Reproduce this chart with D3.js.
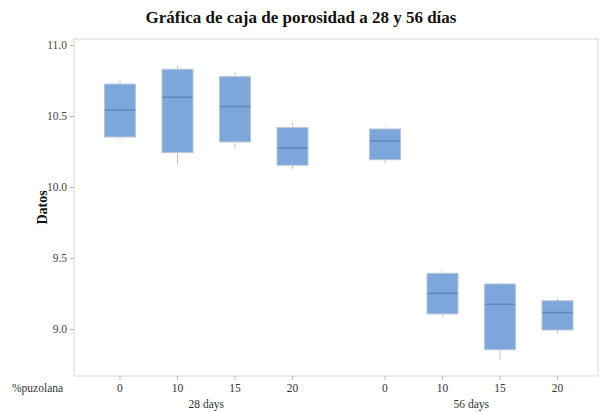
<!DOCTYPE html>
<html><head><meta charset="utf-8">
<script src="https://cdn.jsdelivr.net/npm/d3@7"></script>
<style>body{margin:0;background:#fff}svg{display:block}</style>
</head><body><svg id="c" width="602" height="412"></svg>
<script>
const groups = ["28 days", "56 days"];
const categories = ["0", "10", "15", "20"];
const whiskerLow  = [10.331, 10.160, 10.270, 10.127,  10.167, 9.087, 8.786, 8.965];
const q1          = [10.352, 10.242, 10.317, 10.153,  10.192, 9.106, 8.854, 8.993];
const medians     = [10.542, 10.632, 10.566, 10.275,  10.324, 9.251, 9.174, 9.115];
const q3          = [10.725, 10.829, 10.777, 10.418,  10.408, 9.392, 9.317, 9.199];
const whiskerHigh = [10.754, 10.852, 10.810, 10.453,  10.420, 9.408, 9.326, 9.216];
const yTicks = [9.0, 9.5, 10.0, 10.5, 11.0];

const data = [];
groups.forEach((g, gi) => categories.forEach((c, ci) => {
  const i = gi * categories.length + ci;
  data.push({g, c, lo: whiskerLow[i], q1: q1[i], med: medians[i], q3: q3[i], hi: whiskerHigh[i]});
}));

const svg = d3.select("#c");
const L = 74, R = 598, T = 39, B = 376;
const font = "'Liberation Serif','Times New Roman',serif";

const y = d3.scaleLinear().domain([8.669, 11.042]).range([B, T]);
const xGroup = d3.scaleBand().domain(groups).range([73.75, 603.75]);
const xInner = d3.scalePoint().domain(categories).range([0, xGroup.bandwidth()]).padding(0.804);
const xPos = d => xGroup(d.g) + xInner(d.c);
const bw = 31;

// frame
svg.append("rect").attr("x", L).attr("y", T).attr("width", R - L).attr("height", B - T)
  .attr("fill", "none").attr("stroke", "#d4d4d4").attr("stroke-width", 1);

// y axis
const yAxis = svg.append("g").attr("transform", `translate(${L},0)`)
  .call(d3.axisLeft(y).tickValues(yTicks).tickFormat(d3.format(".1f")).tickSize(4).tickPadding(3));
yAxis.select(".domain").remove();
yAxis.selectAll(".tick line").attr("stroke", "#bbb");
yAxis.selectAll(".tick text").attr("font-family", font).attr("font-size", 11.5).attr("fill", "#444");

// x ticks
const xt = svg.append("g");
data.forEach(d => {
  xt.append("line").attr("x1", xPos(d)).attr("x2", xPos(d)).attr("y1", B).attr("y2", B + 4).attr("stroke", "#bbb");
  xt.append("text").attr("x", xPos(d)).attr("y", B + 16).attr("text-anchor", "middle")
    .attr("font-family", font).attr("font-size", 11.5).attr("fill", "#333").text(d.c);
});
groups.forEach(g => {
  svg.append("text").attr("x", xGroup(g) + xGroup.bandwidth() / 2).attr("y", B + 32).attr("text-anchor", "middle")
    .attr("font-family", font).attr("font-size", 11.5).attr("fill", "#333").text(g);
});
svg.append("text").attr("x", 12).attr("y", B + 16).attr("font-family", font).attr("font-size", 11.5)
  .attr("fill", "#333").text("%puzolana");

// boxes
const bx = svg.append("g").selectAll("g").data(data).join("g");
bx.append("line").attr("x1", xPos).attr("x2", xPos).attr("y1", d => y(d.hi)).attr("y2", d => y(d.q3)).attr("stroke", "#c4c4c4");
bx.append("line").attr("x1", xPos).attr("x2", xPos).attr("y1", d => y(d.q1)).attr("y2", d => y(d.lo)).attr("stroke", "#c4c4c4");
bx.append("rect").attr("x", d => xPos(d) - bw / 2).attr("width", bw)
  .attr("y", d => y(d.q3)).attr("height", d => y(d.q1) - y(d.q3))
  .attr("fill", "#7da7da").attr("stroke", "#b9c6d8").attr("stroke-width", 1);
bx.append("line").attr("x1", d => xPos(d) - bw / 2 + 0.5).attr("x2", d => xPos(d) + bw / 2 - 0.5)
  .attr("y1", d => y(d.med)).attr("y2", d => y(d.med)).attr("stroke", "#5f88bb").attr("stroke-width", 1.5);

// titles
svg.append("text").attr("x", 301).attr("y", 23).attr("text-anchor", "middle")
  .attr("font-family", font).attr("font-size", 17).attr("font-weight", "bold").attr("fill", "#111")
  .text("Gráfica de caja de porosidad a 28 y 56 días");
svg.append("text").attr("transform", `translate(47,${(T + B) / 2}) rotate(-90)`).attr("text-anchor", "middle")
  .attr("font-family", font).attr("font-size", 14).attr("font-weight", "bold").attr("fill", "#111").text("Datos");
</script></body></html>
